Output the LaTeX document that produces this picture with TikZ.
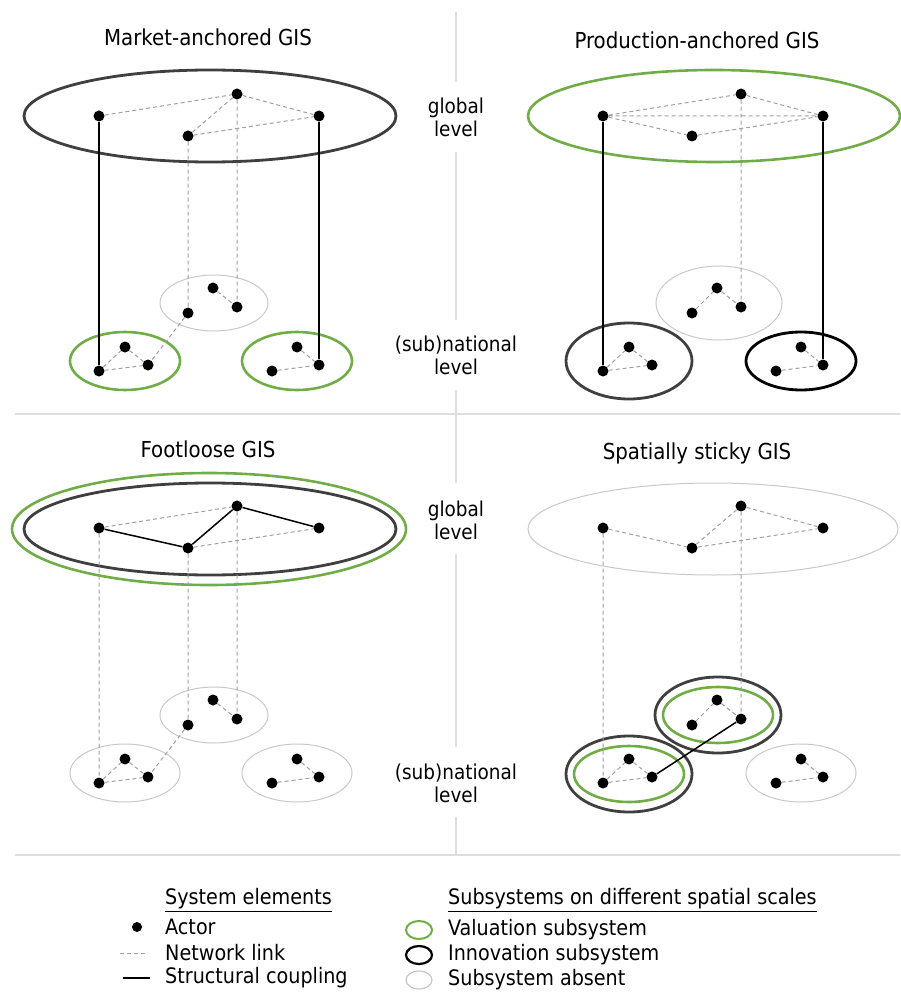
\documentclass[tikz,border=0pt]{standalone}
\usepackage{fontspec}
\setmainfont{DejaVu Sans Condensed}
\usetikzlibrary{positioning}

\definecolor{valgreen}{HTML}{70AD47}
\definecolor{innogray}{HTML}{3F3F3F}
\definecolor{absgray}{HTML}{C8C8C8}
\definecolor{lnkgray}{HTML}{A0A0A0}
\definecolor{divgray}{HTML}{DEDEDE}

\tikzset{
  act/.style={circle,fill=black,inner sep=0pt,minimum size=11pt},
  lnk/.style={draw=lnkgray,line width=1pt,dash pattern=on 4pt off 3pt},
  cpl/.style={draw=black,line width=1.5pt},
  val/.style={draw=valgreen,line width=2.6pt},
  inno/.style={draw=innogray,line width=2.8pt},
  absent/.style={draw=absgray,line width=1pt},
  divl/.style={draw=divgray,line width=1.2pt},
  ttl/.style={font=\fontsize{22}{26}\selectfont},
  lvl/.style={align=center,font=\fontsize{20.5}{23}\selectfont},
  lgd/.style={anchor=west,inner sep=0pt,font=\fontsize{21.3}{24}\selectfont}
}

% the 13 actors of one panel
\newcommand\placeactors{%
  \foreach \n/\x/\y in {gA/99/116,gB/237/94,gC/188/136,gD/319/116,
      mA/188/313,mB/213/288,mC/237/307,
      lA/99/371,lB/125/347,lC/148/365,
      rA/272/371,rB/297/347,rC/319/365}
    \node[act] (\n) at (\x,\y) {};}

\begin{document}
\begin{tikzpicture}[x=1pt,y=-1pt]
  \useasboundingbox (0,0) rectangle (901,992);

  % dividers
  \draw[divl] (456,12) -- (456,82) (456,152) -- (456,320) (456,390) -- (456,483)
    (456,554) -- (456,747) (456,817) -- (456,855);
  \draw[divl] (15,414) -- (900,414) (15,855) -- (900,855);

  % titles and levels
  \node[ttl] (tma) at (208,37) {Market-anchored GIS};
  \node[ttl] (tpa) at (697,40) {Production-anchored GIS};
  \node[ttl] (tfl) at (208,449) {Footloose GIS};
  \node[ttl] (tst) at (697,453) {Spatially sticky GIS};
  \node[lvl] (glo1) at (456,117) {global\\level};
  \node[lvl] (sub1) at (456,355) {(sub)national\\level};
  \node[lvl] (glo2) at (456,520) {global\\level};
  \node[lvl] (sub2) at (456,783) {(sub)national\\level};

  % market-anchored
  \begin{scope}[name prefix=ma-]
    \draw[inno] (210,116) ellipse [x radius=186pt, y radius=46pt];
    \draw[absent] (214,303) ellipse [x radius=54pt, y radius=28pt];
    \draw[val] (125,361) ellipse [x radius=55pt, y radius=29pt];
    \draw[val] (297,361) ellipse [x radius=55pt, y radius=29pt];
    \placeactors
    \draw[lnk] (gA) -- (gB) (gB) -- (gC) (gB) -- (gD) (gC) -- (gD)
      (gC) -- (mA) (gB) -- (mC) (mB) -- (mC) (mA) -- (lC)
      (lA) -- (lB) (lB) -- (lC) (lA) -- (lC) (rB) -- (rC) (rA) -- (rC);
    \draw[cpl] (gA) -- (lA) (gD) -- (rC);
  \end{scope}

  % production-anchored
  \begin{scope}[shift={(504,0)},name prefix=pa-]
    \draw[val] (210,116) ellipse [x radius=186pt, y radius=46pt];
    \draw[absent] (215,303) ellipse [x radius=63pt, y radius=37pt];
    \draw[inno] (125,361) ellipse [x radius=63pt, y radius=38pt];
    \draw[inno,draw=black] (297,361) ellipse [x radius=55pt, y radius=29pt];
    \placeactors
    \draw[lnk] (gA) -- (gB) (gA) -- (gD) (gA) -- (gC) (gC) -- (gD) (gB) -- (gD)
      (gB) -- (mC) (mA) -- (mB) (mB) -- (mC)
      (lA) -- (lB) (lB) -- (lC) (lA) -- (lC) (rB) -- (rC) (rA) -- (rC);
    \draw[cpl] (gA) -- (lA) (gD) -- (rC);
  \end{scope}

  % footloose
  \begin{scope}[shift={(0,412)},name prefix=fl-]
    \draw[val] (209,117) ellipse [x radius=197pt, y radius=56pt];
    \draw[inno] (210,117) ellipse [x radius=186pt, y radius=46pt];
    \draw[absent] (214,303) ellipse [x radius=54pt, y radius=28pt];
    \draw[absent] (125,361) ellipse [x radius=55pt, y radius=29pt];
    \draw[absent] (297,361) ellipse [x radius=55pt, y radius=29pt];
    \placeactors
    \draw[lnk] (gA) -- (gB) (gC) -- (gD) (gA) -- (lA) (gC) -- (mA) (gB) -- (mC)
      (mB) -- (mC) (mA) -- (lC)
      (lA) -- (lB) (lB) -- (lC) (lA) -- (lC) (rB) -- (rC) (rA) -- (rC);
    \draw[cpl] (gA) -- (gC) -- (gB) -- (gD);
  \end{scope}

  % spatially sticky
  \begin{scope}[shift={(504,412)},name prefix=st-]
    \draw[absent] (209,117) ellipse [x radius=185pt, y radius=46pt];
    \draw[inno] (214,303) ellipse [x radius=63pt, y radius=38pt];
    \draw[val] (214,303) ellipse [x radius=55pt, y radius=28pt];
    \draw[inno] (125,362) ellipse [x radius=63pt, y radius=38pt];
    \draw[val] (125,362) ellipse [x radius=55pt, y radius=28pt];
    \draw[absent] (297,361) ellipse [x radius=55pt, y radius=29pt];
    \placeactors
    \draw[lnk] (gA) -- (gC) (gC) -- (gB) (gB) -- (gD) (gC) -- (gD)
      (gA) -- (lA) (gB) -- (mC) (mA) -- (mB) (mB) -- (mC)
      (lA) -- (lB) (lB) -- (lC) (lA) -- (lC) (rB) -- (rC) (rA) -- (rC);
    \draw[cpl] (lC) -- (mC);
  \end{scope}

  % legend
  \node[lgd] (ksys) at (165,900) {\underline{System elements}};
  \node[act,minimum size=10pt] (kact) at (137,927) {};
  \node[lgd] (tact) at (165,927) {Actor};
  \coordinate (kl1) at (120,953);
  \coordinate (kl2) at (148,953);
  \draw[lnk] (kl1) -- (kl2);
  \node[lgd] (tlnk) at (165,953) {Network link};
  \coordinate (kc1) at (123,978);
  \coordinate (kc2) at (150,978);
  \draw[cpl] (kc1) -- (kc2);
  \node[lgd] (tcpl) at (165,978) {Structural coupling};

  \node[lgd] (ksub) at (448,900) {\underline{Subsystems on different spatial scales}};
  \draw[val,line width=2pt] (419,930) ellipse [x radius=13pt, y radius=9pt];
  \node[lgd] (tval) at (448,930) {Valuation subsystem};
  \draw[inno,draw=black,line width=2.2pt] (419,955) ellipse [x radius=13pt, y radius=9pt];
  \node[lgd] (tinn) at (448,955) {Innovation subsystem};
  \draw[absent,line width=1.2pt] (419,980) ellipse [x radius=13pt, y radius=9pt];
  \node[lgd] (tabs) at (448,980) {Subsystem absent};
\end{tikzpicture}
\end{document}
